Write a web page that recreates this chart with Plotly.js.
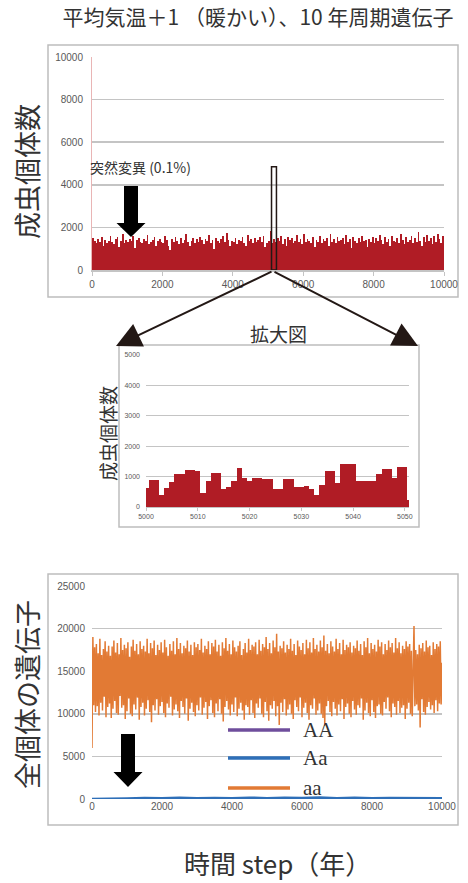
<!DOCTYPE html>
<html><head><meta charset="utf-8">
<script src="https://cdn.plot.ly/plotly-3.0.1.min.js"></script>
<style>html,body{margin:0;padding:0;background:#fff}#chart{width:468px;height:883px}</style>
</head><body><div id="chart"></div>
<script>
// ---------- DATA ----------
const titleText = "平均気温＋1 （暖かい）、10 年周期遺伝子";
const mutationLabel = "突然変異 (0.1%)";
const zoomLabel = "拡大図";
const yTitleAdult = "成虫個体数";
const yTitleGenes = "全個体の遺伝子";
const xTitle = "時間 step（年）";
const seriesNames = ["AA", "Aa", "aa"];
const seriesColors = ["#6f4e9c", "#2e6fb8", "#e27a34"];
const barColor = "#b01c25";

// top chart: adult count, one value per 50-step bin (0..9950)
const adultBinSize = 50;
const adultCounts = [
1500,1350,1250,1450,1300,1550,1150,1400,1250,1350,
1600,1300,1200,1450,1550,1100,1350,1700,1250,1400,
1300,1450,1350,1600,1050,1400,1500,1300,1250,1450,
1350,1650,1200,1300,1400,1550,1150,1350,1450,1300,
1250,1600,1400,1150,950,1450,1300,1550,1350,1200,
1500,1250,1400,1700,1300,1150,1350,1500,1250,1450,
1300,1550,1400,1200,1450,1350,1650,1250,1400,1000,
1500,1350,1250,1450,1600,1300,1750,1400,1150,1350,
1300,1500,1200,1400,1350,1550,1250,1150,1650,1350,
1450,1250,1500,1300,1400,1550,1300,1600,1100,1250,
1350,1850,1250,1450,1300,1500,1350,1600,1200,1450,
1150,1550,1400,1500,1250,1350,1650,1300,1450,1200,
1700,1300,1450,1350,1250,1550,1100,1400,1300,1600,
1250,1450,1350,1500,1150,1700,1300,1450,1250,1550,
1350,1400,1500,1200,1650,1300,1450,1050,1550,1350,
1250,1500,1300,1600,1350,1400,1100,1450,1300,1550,
1250,1500,1350,1650,1400,1200,1550,1300,1450,1150,
1600,1350,1300,1500,1250,1700,1400,1200,1550,1300,
1400,1600,1250,1500,1300,1800,1350,1150,1550,1300,
1650,1350,1500,1200,1600,1300,1700,1450,1250,1600
];

// zoom chart: steps 5000..5051
const zoomStart = 5000;
const zoomCounts = [
615,900,900,400,640,820,1090,1090,1210,1210,
1190,470,850,1130,1130,580,660,840,1270,950,
860,970,970,910,910,600,600,910,910,660,
660,680,580,400,740,1190,1190,800,1400,1400,
1400,840,840,850,850,1090,1250,1250,960,1330,
1330,230
];

// bottom chart: aa gene count, one value every 25 steps (0..10000)
const geneStep = 25;
const aaCounts = [
6000,19000,11000,17800,10200,18200,10900,17100,9800,18800,11300,16900,10400,17600,12000,18500,9600,17300,10800,18000,
11200,16800,9500,17900,10600,18600,11500,17200,10100,18300,9900,17000,12100,18900,10700,17500,11000,18100,9400,17700,
10300,18400,11800,16700,10000,17900,9700,18700,11100,17400,10500,18200,11900,17000,9300,18500,10800,17600,11300,18000,
9800,17300,10600,18800,11600,17100,10200,18300,9000,17700,11000,18600,10400,16900,11700,18100,9900,17500,10900,18400,
11400,17200,10100,18700,9600,17800,11200,16800,10700,18200,12000,17400,9800,18500,10500,17000,11100,18900,10300,17600,
9500,18300,11500,17100,10800,18000,10000,17700,11800,18600,9200,17300,10600,18100,11300,16900,10200,18400,9700,17800,
11000,18200,10400,17500,11900,18800,9900,17200,10700,18000,11400,17600,9400,18500,10900,17000,11600,18300,10100,17900,
9600,18700,11200,17300,10300,18100,11700,16800,10000,18400,9100,17700,10800,18900,11500,17400,10500,18200,9800,17000,
11100,18600,10200,17800,11900,17300,9700,18000,10600,18500,11300,16900,10400,17600,9300,18300,11000,17200,10800,18800,
9900,17500,11600,18100,10100,17900,9500,18400,11200,17000,10700,18700,11800,17400,10000,18200,9600,17800,11400,19000,
10300,17600,9200,18300,11000,17100,10600,18600,11500,17800,9700,19400,10900,17300,8700,18000,11300,17700,10200,18500,
11700,17200,9800,18100,10500,17600,11100,18800,10000,17400,9400,18200,11600,16900,10800,18600,10300,17900,11900,17500,
9600,18300,10700,17000,11300,18700,10100,17700,9300,18400,11000,17200,10600,18900,11800,17600,9900,18100,10400,17300,
11200,18600,10000,17800,9500,19200,8600,17400,10900,18200,11500,17100,10200,18500,9700,17900,11400,17300,10600,18800,
9800,17600,11100,18300,10300,17000,11700,18700,9400,17500,10800,18100,11200,17800,10000,18400,9600,17200,11500,18000,
10500,17700,9900,18600,11000,17400,10700,18200,11800,16900,9300,18500,10400,17800,11300,18900,10100,17100,9700,18300,
11600,17600,10200,18100,9500,17300,10900,18700,11100,17900,10000,18400,9800,17000,11400,18200,10600,17500,11900,18600,
10300,17800,9600,18300,11200,17200,10800,18900,9900,17700,11500,18400,10100,17100,10700,18000,11000,17600,9400,18500,
10600,17900,11300,18200,10000,17400,9700,18800,20300,10900,17500,11100,17000,10400,18100,8400,17700,11700,18300,10200,
17300,9900,18600,10800,17800,11400,18000,10500,16900,11000,18400,10100,17600,11600,18200,10300,17900,11200,18500,11100,
16000
];
const hetStep = 500;
const AaCounts = [0,0,60,120,90,150,80,130,100,160,90,140,110,170,100,150,90,130,120,160,100];
const AACounts = [0,0,0,0,0,0,0,0,0,0,0,0,0,0,0,0,0,0,0,0,0];

// ---------- helpers (pixel -> paper) ----------
const W = 468, H = 883;
const px = x => x / W;
const py = y => 1 - y / H;

const tickFont = {family: "Liberation Sans, Arial, sans-serif", size: 10, color: "#595959"};
const smallTick = {family: "Liberation Sans, Arial, sans-serif", size: 7, color: "#595959"};
const jp = "Noto Sans CJK JP, Noto Sans, sans-serif";

const traces = [
  {type: "bar", xaxis: "x", yaxis: "y",
   x: adultCounts.map((_, i) => i * adultBinSize + adultBinSize / 2),
   y: adultCounts, width: adultBinSize,
   marker: {color: barColor, line: {width: 0}}, hoverinfo: "skip"},
  {type: "bar", xaxis: "x2", yaxis: "y2",
   x: zoomCounts.map((_, i) => zoomStart + i),
   y: zoomCounts, width: 1,
   marker: {color: barColor, line: {width: 0}}, hoverinfo: "skip"},
  {type: "scatter", mode: "lines", name: seriesNames[0], xaxis: "x3", yaxis: "y3",
   x: AACounts.map((_, i) => i * hetStep), y: AACounts,
   line: {color: seriesColors[0], width: 2}},
  {type: "scatter", mode: "lines", name: seriesNames[2], xaxis: "x3", yaxis: "y3",
   x: aaCounts.map((_, i) => i * geneStep), y: aaCounts,
   line: {color: seriesColors[2], width: 1.5}},
  {type: "scatter", mode: "lines", name: seriesNames[1], xaxis: "x3", yaxis: "y3",
   x: AaCounts.map((_, i) => i * hetStep), y: AaCounts,
   line: {color: seriesColors[1], width: 2.5}}
];

const gridC = "#c4c4c4";
const layout = {
  width: W, height: H, autosize: false,
  margin: {l: 0, r: 0, t: 0, b: 0},
  paper_bgcolor: "#fff", plot_bgcolor: "rgba(0,0,0,0)",
  showlegend: false, bargap: 0,
  title: {text: titleText, x: px(258), y: py(18), xanchor: "center", yanchor: "middle",
          font: {family: jp, size: 21, color: "#333"}},
  xaxis: {domain: [px(92), px(444)], range: [0, 10000], tickvals: [0,2000,4000,6000,8000,10000], tickformat: "d",
          showgrid: false, zeroline: false, showline: true, linecolor: gridC, linewidth: 1.5,
          ticks: "outside", ticklen: 4, tickcolor: gridC, tickfont: tickFont, anchor: "y"},
  yaxis: {domain: [py(270), py(57)], range: [0, 10000], dtick: 2000, tickformat: "d", gridcolor: gridC, gridwidth: 1.5,
          zeroline: false, showline: true, linecolor: "#e9b5b5", linewidth: 1,
          tickfont: tickFont, ticklabelstandoff: 6, anchor: "x"},
  xaxis2: {domain: [px(146), px(409)], range: [5000, 5050.8], tickvals: [5000,5010,5020,5030,5040,5050], tickformat: "d",
           showgrid: false, zeroline: false, showline: true, linecolor: gridC, linewidth: 1,
           ticks: "outside", ticklen: 3, tickcolor: gridC, tickfont: smallTick, anchor: "y2"},
  yaxis2: {domain: [py(507), py(355)], range: [0, 5000], dtick: 1000, tickformat: "d", gridcolor: gridC, gridwidth: 1.2,
           zeroline: false, tickfont: smallTick, ticklabelstandoff: 5, anchor: "x2"},
  xaxis3: {domain: [px(92), px(442)], range: [0, 10000], tickvals: [0,2000,4000,6000,8000,10000], tickformat: "d",
           showgrid: false, zeroline: false, showline: false, tickfont: tickFont, anchor: "y3"},
  yaxis3: {domain: [py(799), py(586)], range: [0, 25000], dtick: 5000, tickformat: "d", gridcolor: gridC, gridwidth: 1.5,
           zeroline: false, tickfont: tickFont, ticklabelstandoff: 6, anchor: "x3"},
  shapes: [],
  annotations: []
};

// frames
function frame(x0, y0, x1, y1) {
  return {type: "rect", xref: "paper", yref: "paper", x0: px(x0), x1: px(x1), y0: py(y1), y1: py(y0),
          line: {color: "#bdbdbd", width: 1.5}, fillcolor: "rgba(0,0,0,0)", layer: "below"};
}
layout.shapes.push(frame(48, 45, 458, 297));
layout.shapes.push(frame(119, 345, 419, 527));
layout.shapes.push(frame(48, 574, 458, 825));

// block arrows
function blockArrow(cx, yTop, yHead, yTip) {
  const pts = [[cx - 7, yTop], [cx + 7, yTop], [cx + 7, yHead], [cx + 14.5, yHead], [cx, yTip],
               [cx - 14.5, yHead], [cx - 7, yHead]];
  const d = pts.map((p, i) => (i ? "L" : "M") + px(p[0]).toFixed(5) + "," + py(p[1]).toFixed(5)).join(" ") + " Z";
  return {type: "path", xref: "paper", yref: "paper", path: d, fillcolor: "#000", line: {width: 0}};
}
layout.shapes.push(blockArrow(131, 186, 223, 237));
layout.shapes.push(blockArrow(128, 734, 772, 787));

// zoom window marker
layout.shapes.push({type: "rect", xref: "x", yref: "y", x0: 5100, x1: 5240, y0: 0, y1: 4850,
                    line: {color: "#231815", width: 1.5}, fillcolor: "rgba(0,0,0,0)"});

// custom legend
const legY = [730, 758, 788];
seriesNames.forEach((n, i) => {
  layout.shapes.push({type: "line", xref: "paper", yref: "paper", x0: px(228), x1: px(290),
                      y0: py(legY[i]), y1: py(legY[i]), line: {color: seriesColors[i], width: 3.5}});
  layout.annotations.push({text: n, xref: "paper", yref: "paper", x: px(301), y: py(legY[i]),
                           xanchor: "left", yanchor: "middle", showarrow: false,
                           font: {family: "Liberation Serif, Times New Roman, serif", size: 21, color: "#333"}});
});

// zoom arrows
[[116, 346], [418, 346]].forEach(t => {
  layout.annotations.push({text: "", xref: "paper", yref: "paper", x: px(t[0]), y: py(t[1]),
                           ax: 273 - t[0], ay: 271 - t[1], showarrow: true, arrowhead: 2,
                           arrowsize: 2.5, arrowwidth: 2, arrowcolor: "#231815", standoff: 0});
});

// texts
function txt(t, x, y, size, opts) {
  return Object.assign({text: t, xref: "paper", yref: "paper", x: px(x), y: py(y), showarrow: false,
                        xanchor: "center", yanchor: "middle",
                        font: {family: jp, size: size, color: "#333"}}, opts || {});
}
layout.annotations.push(txt(mutationLabel, 88, 167, 14, {xanchor: "left"}));
layout.annotations.push(txt(zoomLabel, 278, 333, 19));
layout.annotations.push(txt(yTitleAdult, 26, 172, 27, {textangle: -90}));
layout.annotations.push(txt(yTitleAdult, 107, 434, 19, {textangle: -90}));
layout.annotations.push(txt(yTitleGenes, 26, 695, 27, {textangle: -90}));
layout.annotations.push(txt(xTitle, 277, 862, 26));

Plotly.newPlot("chart", traces, layout, {staticPlot: true, displayModeBar: false});
</script>
</body></html>
